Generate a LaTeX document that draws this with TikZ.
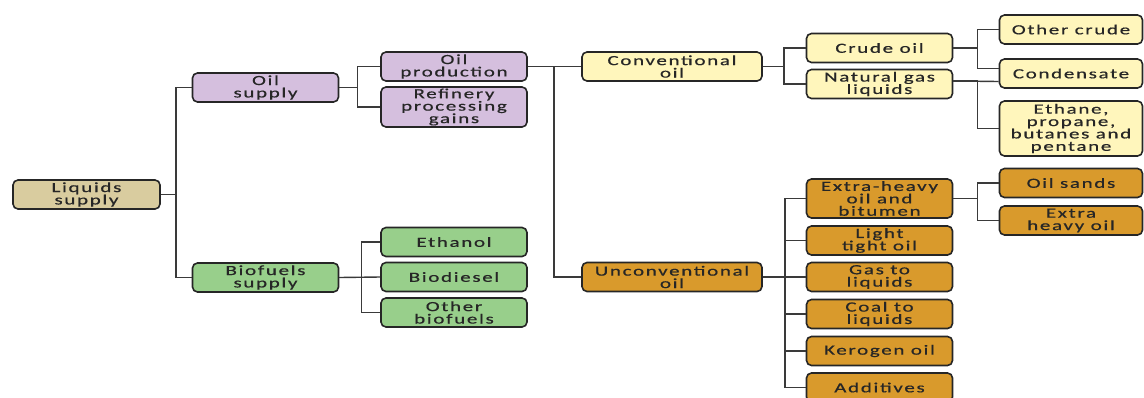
\documentclass[tikz,border=0pt]{standalone}
\usepackage{fontspec}
\setmainfont{Carlito}[FakeStretch=1.5,LetterSpace=12,FakeBold=0.6]
\definecolor{liqfill}{HTML}{D9CC9F}
\definecolor{oilfill}{HTML}{D5BFDE}
\definecolor{biofill}{HTML}{98CF8B}
\definecolor{convfill}{HTML}{FFF6BC}
\definecolor{unconvfill}{HTML}{D99A2C}
\definecolor{edgegrey}{HTML}{3A3A3A}
\tikzset{
  box/.style={draw=black!85, line width=1.6pt, rounded corners=5pt, align=center,
    inner sep=0pt, minimum height=29pt, text=black!85,
    font=\fontsize{14}{12.4}\selectfont},
  liqbox/.style={box, fill=liqfill, minimum width=147pt},
  oilbox/.style={box, fill=oilfill, minimum width=146pt},
  biobox/.style={box, fill=biofill, minimum width=146pt},
  convbox/.style={box, fill=convfill, minimum width=146pt},
  unconvbox/.style={box, fill=unconvfill, minimum width=146pt},
  link/.style={draw=edgegrey, line width=1.4pt}
}
\begin{document}
\begin{tikzpicture}[x=1pt, y=-1pt]
    \useasboundingbox (0,0) rectangle (1144,397);

    % Draw nodes
    \node[liqbox] (liquids) at (86.5, 194.5) {Liquids\\supply};

    \node[oilbox] (oilsup) at (265.5, 87.5) {Oil\\supply};
    \node[biobox] (biosup) at (265.5, 277.5) {Biofuels\\supply};

    \node[oilbox] (oilprod) at (454, 66.5) {Oil\\production};
    \node[oilbox, minimum height=40pt] (refinery) at (454, 107) {Refinery\\processing\\gains};

    \node[biobox] (ethanol) at (454, 242) {Ethanol};
    \node[biobox] (biodiesel) at (454, 277) {Biodiesel};
    \node[biobox] (otherbio) at (454, 312.5) {Other\\biofuels};

    \node[convbox, minimum width=180pt] (conv) at (672, 66.5) {Conventional\\oil};
    \node[unconvbox, minimum width=180pt] (unconv) at (672, 277) {Unconventional\\oil};

    \node[convbox] (crude) at (879.5, 48) {Crude oil};
    \node[convbox] (ngl) at (879.5, 84) {Natural gas\\liquids};

    \node[convbox, minimum width=143pt] (othercrude) at (1071, 29.5) {Other crude};
    \node[convbox, minimum width=143pt] (condensate) at (1071, 73.5) {Condensate};
    \node[convbox, minimum width=143pt, minimum height=55pt] (ethane) at (1071, 128.5) {Ethane,\\propane,\\butanes and\\pentane};

    \node[unconvbox, minimum height=39pt] (xheavy) at (879.5, 198.5) {Extra-heavy\\oil and\\bitumen};
    \node[unconvbox] (lighttight) at (879.5, 240.5) {Light\\tight oil};
    \node[unconvbox] (gtl) at (879.5, 277) {Gas to\\liquids};
    \node[unconvbox] (ctl) at (879.5, 314) {Coal to\\liquids};
    \node[unconvbox] (kerogen) at (879.5, 351) {Kerogen oil};
    \node[unconvbox] (additives) at (879.5, 387.5) {Additives};

    \node[unconvbox, minimum width=143pt] (oilsands) at (1071, 183) {Oil sands};
    \node[unconvbox, minimum width=143pt] (xheavyoil) at (1071, 220.5) {Extra\\heavy oil};

    % Draw edges
    \draw[link] (liquids.east) -- ++(15,0) |- (oilsup.west);
    \draw[link] (liquids.east) -- ++(15,0) |- (biosup.west);

    \draw[link] (oilsup.east) -- ++(18,0) |- (oilprod.west);
    \draw[link] (oilsup.east) -- ++(18,0) |- (refinery.west);

    \draw[link] (biosup.east) -- ++(22,0) |- (ethanol.west);
    \draw[link] (biosup.east) -- (biodiesel.west);
    \draw[link] (biosup.east) -- ++(22,0) |- (otherbio.west);

    \draw[link] (oilprod.east) -- (conv.west);
    \draw[link] (oilprod.east) -- ++(26,0) |- (unconv.west);

    \draw[link] (conv.east) -- ++(21,0) |- (crude.west);
    \draw[link] (conv.east) -- ++(21,0) |- (ngl.west);

    \draw[link] (crude.east) -- ++(24,0) |- (othercrude.west);
    \draw[link] (crude.east) -- ++(24,0) |- ([yshift=5pt]condensate.west);
    \draw[link] ([yshift=3pt]ngl.east) -- ([yshift=-8pt]condensate.west);
    \draw[link] ([yshift=3pt]ngl.east) -- ++(24,0) |- (ethane.west);

    \draw[link] (unconv.east) -- ++(22,0) |- (xheavy.west);
    \draw[link] (unconv.east) -- ++(22,0) |- (lighttight.west);
    \draw[link] (unconv.east) -- (gtl.west);
    \draw[link] (unconv.east) -- ++(22,0) |- (ctl.west);
    \draw[link] (unconv.east) -- ++(22,0) |- (kerogen.west);
    \draw[link] (unconv.east) -- ++(22,0) |- (additives.west);

    \draw[link] (xheavy.east) -- ++(24,0) |- (oilsands.west);
    \draw[link] (xheavy.east) -- ++(24,0) |- (xheavyoil.west);
\end{tikzpicture}
\end{document}
